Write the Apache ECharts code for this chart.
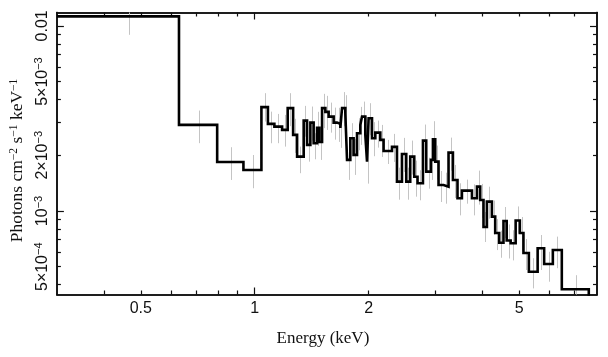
<!DOCTYPE html>
<html>
<head>
<meta charset="utf-8">
<script src="https://cdn.jsdelivr.net/npm/echarts@6/dist/echarts.min.js"></script>
<style>
html,body{margin:0;padding:0;background:#fff;}
#chart{width:608px;height:357px;}
</style>
</head>
<body>
<div id="chart"></div>
<script>
// Bin edges (keV)
const binEdges = [0.3, 0.6307, 0.7957, 0.9336, 1.0416, 1.0836, 1.1271, 1.1813, 1.2222, 1.2633,
  1.2942, 1.3471, 1.3752, 1.4031, 1.4314, 1.4614, 1.4818, 1.5066, 1.5371, 1.5682,
  1.6167, 1.6505, 1.6839, 1.7014, 1.7358, 1.7539, 1.7894, 1.8257, 1.8639, 1.9016,
  1.9214, 1.9603, 1.9807, 2.0000, 2.0417, 2.0833, 2.1475, 2.1910, 2.3059, 2.3768,
  2.4500, 2.5151, 2.5767, 2.6404, 2.6938, 2.7839, 2.8402, 2.9225, 2.9584, 3.0002,
  3.0610, 3.1557, 3.2531, 3.3411, 3.4356, 3.5290, 3.7514, 3.8673, 3.9446, 4.0245,
  4.1088, 4.2358, 4.3215, 4.4281, 4.5449, 4.6345, 4.7479, 4.8944, 5.0211, 5.1322,
  5.3041, 5.5954, 5.8210, 6.1376, 6.4818, 7.6384];

// Unfolded flux per bin (photons cm^-2 s^-1 keV^-1)
const flux = [0.01125, 0.002917, 0.001840, 0.001665, 0.003636, 0.002953, 0.002855, 0.002741, 0.003591, 0.002576,
  0.001966, 0.003077, 0.002274, 0.003001, 0.002322, 0.002810, 0.002360, 0.003591, 0.003428, 0.003234,
  0.003001, 0.002953, 0.002810, 0.003591, 0.003374, 0.001887, 0.002472, 0.002008, 0.002630, 0.002917,
  0.003234, 0.002576, 0.001847, 0.003170, 0.002472, 0.002650, 0.002420, 0.002110, 0.002218, 0.001440,
  0.002033, 0.001440, 0.001966, 0.001532, 0.001411, 0.002399, 0.001631, 0.001887, 0.002441, 0.001847,
  0.001382, 0.001353, 0.002066, 0.001471, 0.001171, 0.001288, 0.001171, 0.001353, 0.001147, 0.000819,
  0.001123, 0.000932, 0.000760, 0.000674, 0.000883, 0.000693, 0.000669, 0.000889, 0.000760, 0.000593,
  0.000470, 0.000629, 0.000517, 0.000616, 0.000378];

// Error bar lower / upper bounds per bin
const errLow = [0.00894, 0.002324, 0.001471, 0.001327, 0.003040, 0.002322, 0.002323, 0.002227, 0.002871, 0.002059,
  0.001600, 0.002520, 0.001847, 0.002399, 0.001902, 0.002246, 0.001887, 0.002801, 0.002740, 0.002649,
  0.002428, 0.002361, 0.002192, 0.002871, 0.002632, 0.001472, 0.001976, 0.001566, 0.002128, 0.002275,
  0.002585, 0.002009, 0.001405, 0.002565, 0.001976, 0.002199, 0.001958, 0.001794, 0.001841, 0.001151,
  0.001625, 0.001151, 0.001572, 0.001195, 0.001142, 0.001918, 0.001320, 0.001472, 0.001904, 0.001476,
  0.001118, 0.001095, 0.001651, 0.001176, 0.000947, 0.001095, 0.000947, 0.001082, 0.000917, 0.000680,
  0.000909, 0.000745, 0.000615, 0.000559, 0.000714, 0.000554, 0.000541, 0.000756, 0.000608, 0.000480,
  0.000382, 0.000480, 0.000415, 0.000491, 0.000295];
const errHigh = [0.01442, 0.003486, 0.002210, 0.002006, 0.004327, 0.003440, 0.003343, 0.003303, 0.004327, 0.003145,
  0.002227, 0.003695, 0.002740, 0.003664, 0.002631, 0.003431, 0.002808, 0.004291, 0.004186, 0.003848,
  0.003616, 0.003606, 0.003515, 0.004385, 0.004221, 0.002304, 0.002979, 0.002452, 0.003169, 0.003649,
  0.003897, 0.003223, 0.002311, 0.003820, 0.003018, 0.003077, 0.002916, 0.002420, 0.002608, 0.001714,
  0.002482, 0.001714, 0.002400, 0.001871, 0.001659, 0.002929, 0.001941, 0.002360, 0.003054, 0.002255,
  0.001645, 0.001610, 0.002490, 0.001773, 0.001411, 0.001477, 0.001393, 0.001652, 0.001400, 0.000987,
  0.001353, 0.001138, 0.000904, 0.000783, 0.001051, 0.000846, 0.000787, 0.001058, 0.000928, 0.000706,
  0.000556, 0.000742, 0.000602, 0.000727, 0.000450];

// Axis ranges and ticks
const xMin = 0.3, xMax = 8.03;
const yMin = 3.54e-4, yMax = 0.0118;
const xMinorTicks = [0.4, 0.5, 0.6, 0.7, 0.8, 0.9, 2, 3, 4, 5, 6, 7];
const xMajorTicks = [1];
const xLabelVals = [0.5, 1, 2, 5];
const xLabelText = ['0.5', '1', '2', '5'];
const yMinorTicks = [4e-4, 5e-4, 6e-4, 7e-4, 8e-4, 9e-4, 2e-3, 3e-3, 4e-3, 5e-3, 6e-3, 7e-3, 8e-3, 9e-3];
const yMajorTicks = [1e-3, 1e-2];
const yLabelVals = [5e-4, 1e-3, 2e-3, 5e-3, 1e-2];
const yLabelText = ['{n|5×10}{s|−4}', '{n|10}{s|−3}', '{n|2×10}{s|−3}', '{n|5×10}{s|−3}', '{n|0.01}'];

// Build step line from bins
const stepPts = [];
for (let i = 0; i < flux.length; i++) {
  stepPts.push([binEdges[i], flux[i]]);
  stepPts.push([binEdges[i + 1], flux[i]]);
}
stepPts.push([binEdges[binEdges.length - 1], yMin * 0.5]);

const errData = flux.map((f, i) => [(binEdges[i] + binEdges[i + 1]) / 2, errLow[i], errHigh[i]]);

const AX = '#111';
function lookup(vals, texts, v) {
  for (let i = 0; i < vals.length; i++) if (Math.abs(vals[i] - v) / vals[i] < 1e-6) return texts[i];
  return '';
}
function xAx(position, ticks, len, withLabels, extra) {
  return Object.assign({
    type: 'log', logBase: 10, min: xMin, max: xMax, position: position, gridIndex: 0,
    axisLine: { show: true, onZero: false, lineStyle: { color: AX, width: 1.6 } },
    axisTick: { show: true, inside: true, length: len, customValues: ticks, lineStyle: { color: AX, width: 1.2 } },
    axisLabel: withLabels ? {
      show: true, customValues: xLabelVals, margin: 6,
      fontFamily: 'Liberation Sans', fontSize: 16, color: '#111',
      formatter: v => lookup(xLabelVals, xLabelText, v)
    } : { show: false },
    splitLine: { show: false }, minorTick: { show: false }
  }, extra || {});
}
function yAx(position, ticks, len, withLabels, extra) {
  return Object.assign({
    type: 'log', logBase: 10, min: yMin, max: yMax, position: position, gridIndex: 0,
    axisLine: { show: true, onZero: false, lineStyle: { color: AX, width: 1.6 } },
    axisTick: { show: true, inside: true, length: len, customValues: ticks, lineStyle: { color: AX, width: 1.2 } },
    axisLabel: withLabels ? {
      show: true, customValues: yLabelVals, margin: 6, rotate: 90,
      color: '#111',
      formatter: v => lookup(yLabelVals, yLabelText, v),
      rich: {
        n: { fontFamily: 'Liberation Sans', fontSize: 16, color: '#111', verticalAlign: 'bottom' },
        s: { fontFamily: 'Liberation Sans', fontSize: 11, color: '#111', verticalAlign: 'top', padding: [0, 0, 6, 0] }
      }
    } : { show: false },
    splitLine: { show: false }, minorTick: { show: false }
  }, extra || {});
}

const chart = echarts.init(document.getElementById('chart'), null, { renderer: 'canvas' });
chart.setOption({
  animation: false,
  backgroundColor: '#fff',
  grid: { left: 55, right: 11, top: 12.5, bottom: 62.5, containLabel: false },
  xAxis: [
    xAx('bottom', xMinorTicks, 4, true, {
      name: 'Energy (keV)', nameLocation: 'middle', nameGap: 36,
      nameTextStyle: { fontFamily: 'Liberation Serif', fontSize: 17, color: '#111', padding: [0, 8, 0, 0] }
    }),
    xAx('bottom', xMajorTicks, 7, false),
    xAx('top', xMinorTicks, 4, false),
    xAx('top', xMajorTicks, 7, false)
  ],
  yAxis: [
    yAx('left', yMinorTicks, 4, true, {
      name: '{a|Photons cm}{s|−2}{a| s}{s|−1}{a| keV}{s|−1}', nameLocation: 'middle', nameGap: 28,
      nameTextStyle: {
        color: '#111', padding: [0, 14, 0, 0],
        rich: {
          a: { fontFamily: 'Liberation Serif', fontSize: 17.5, color: '#111', verticalAlign: 'bottom' },
          s: { fontFamily: 'Liberation Serif', fontSize: 11.5, color: '#111', verticalAlign: 'top', padding: [0, 0, 6, 0] }
        }
      }
    }),
    yAx('left', yMajorTicks, 7, false),
    yAx('right', yMinorTicks, 4, false),
    yAx('right', yMajorTicks, 7, false)
  ],
  series: [
    {
      type: 'custom', xAxisIndex: 0, yAxisIndex: 0, clip: true, z: 1,
      data: errData,
      renderItem: function (params, api) {
        const p1 = api.coord([api.value(0), api.value(1)]);
        const p2 = api.coord([api.value(0), api.value(2)]);
        return { type: 'line', shape: { x1: Math.round(p1[0]) + 0.5, y1: p1[1], x2: Math.round(p2[0]) + 0.5, y2: p2[1] },
          style: { stroke: '#c4c4c4', lineWidth: 1 } };
      }
    },
    {
      type: 'line', xAxisIndex: 0, yAxisIndex: 0, data: stepPts, clip: true, z: 3,
      showSymbol: false, symbol: 'none', smooth: false,
      lineStyle: { color: '#000', width: 2.6, join: 'miter', cap: 'butt' }
    }
  ]
});
</script>
</body>
</html>
